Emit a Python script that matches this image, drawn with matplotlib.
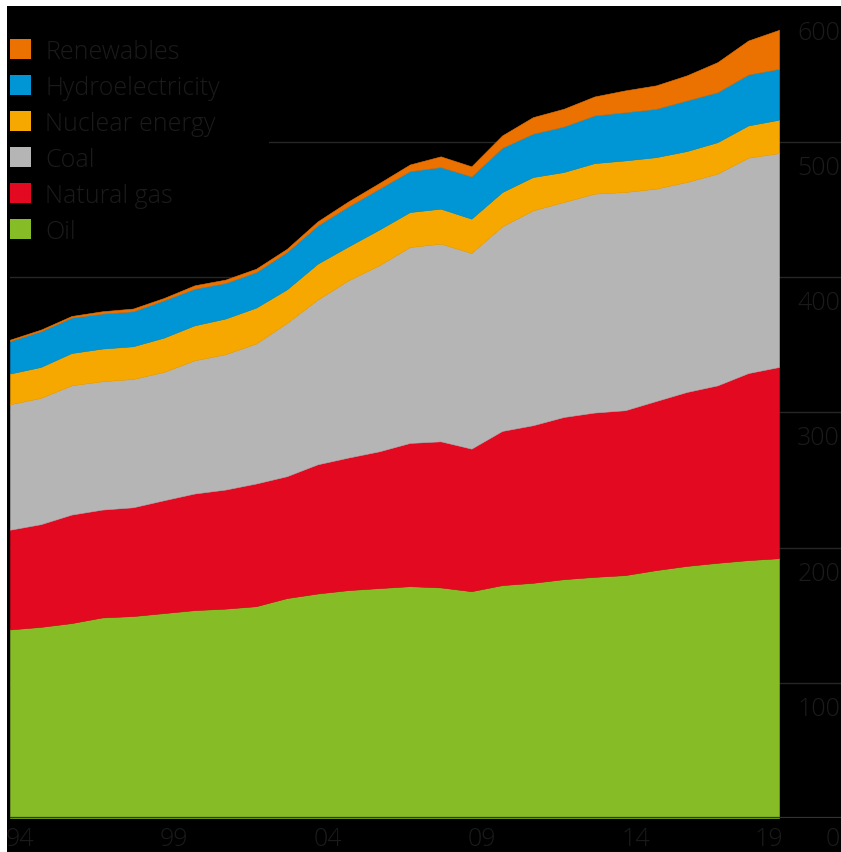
import matplotlib
matplotlib.use("Agg")
import matplotlib.pyplot as plt
from matplotlib.patches import Rectangle
import numpy as np

# Primary energy consumption by fuel, 1994-2019
years = list(range(1994, 2020))
oil = [139.5, 141.4, 144.2, 148.4, 149.4, 151.6, 153.8, 154.9, 156.7, 162.7,
       166.1, 168.6, 170.1, 171.5, 170.6, 167.8, 172.3, 174.0, 176.7, 178.4,
       179.7, 183.4, 186.5, 188.8, 190.8, 192.2]
natural_gas = [73.8, 76.0, 80.3, 79.8, 80.5, 83.5, 86.3, 88.1, 90.8, 90.2,
               95.6, 98.1, 101.2, 106.0, 108.1, 105.5, 114.1, 116.6, 120.0, 121.6,
               122.0, 125.1, 128.7, 131.3, 138.4, 141.5]
coal = [92.8, 93.4, 95.6, 94.9, 94.9, 94.9, 98.5, 100.1, 103.5, 113.3,
        121.8, 131.1, 137.6, 144.9, 146.2, 144.7, 151.3, 158.9, 159.0, 161.9,
        161.4, 157.1, 155.3, 156.6, 159.3, 158.2]
nuclear = [22.7, 22.9, 23.9, 24.2, 24.2, 25.4, 25.9, 26.4, 26.6, 24.9,
           26.6, 25.1, 26.4, 25.9, 25.9, 25.4, 25.4, 24.7, 22.2, 22.6,
           23.4, 23.3, 22.9, 23.3, 23.9, 24.7]
hydro = [24.1, 26.4, 26.2, 25.9, 25.9, 27.6, 27.1, 26.3, 26.3, 27.6,
         28.3, 29.6, 30.3, 30.3, 30.8, 31.3, 32.8, 32.1, 33.7, 35.3,
         35.7, 35.8, 37.5, 37.0, 37.7, 37.7]
renewables = [1.0, 1.2, 1.2, 1.7, 2.0, 1.7, 2.5, 2.5, 2.5, 2.4,
              3.0, 3.7, 4.1, 4.9, 7.9, 7.4, 9.1, 12.2, 13.1, 14.0,
              16.1, 17.3, 18.5, 22.2, 25.1, 28.8]

series_names = ["Oil", "Natural gas", "Coal", "Nuclear energy",
                "Hydroelectricity", "Renewables"]
series_colors = ["#86bc25", "#e30920", "#b6b5b6", "#f6a800", "#0096d6", "#eb7100"]

x_tick_years = [1994, 1999, 2004, 2009, 2014, 2019]
x_tick_labels = ["94", "99", "04", "09", "14", "19"]
y_ticks = [0, 100, 200, 300, 400, 500, 600]

W, H = 841, 852
TEXT = "#1b1b1b"
FONT = dict(family=["Open Sans", "DejaVu Sans"], fontweight="light", fontsize=18)

fig = plt.figure(figsize=(W / 100, H / 100), dpi=100, facecolor="white")

# black panel with a thin white margin on the top and left
fig.patches.append(Rectangle((7 / W, 0), 1, (H - 6) / H, transform=fig.transFigure,
                             facecolor="black", edgecolor="none", zorder=-10))

ax = fig.add_axes([10 / W, (H - 818) / H, (W - 10) / W, (818 - 7) / H])
ax.set_facecolor("none")
ax.set_xlim(1994, 1994 + (W - 10) / 30.76)
ax.set_ylim(0, 600)
ax.axis("off")

# gridlines behind the areas
for v in y_ticks[1:-1]:
    ax.axhline(v, color="#262626", lw=1.0, zorder=0)

stack = np.vstack([oil, natural_gas, coal, nuclear, hydro, renewables])
ax.stackplot(years, stack, colors=series_colors, zorder=1,
             edgecolor="face", linewidth=0.4)

ax.axhline(0, color="#333333", lw=1.6, zorder=3)

# y-axis labels on the right, set just below each gridline
for v in y_ticks:
    dy = -28 if v == 0 else -33
    ax.annotate(str(v), xy=(1994 + (840 - 10) / 30.76, v), xytext=(0, dy),
                textcoords="offset pixels", ha="right", va="baseline",
                color=TEXT, annotation_clip=False, **FONT)

# year labels under the baseline
for yr, lab in zip(x_tick_years, x_tick_labels):
    if lab == x_tick_labels[-1]:
        ax.annotate(lab, xy=(yr, 0), xytext=(4, -28), textcoords="offset pixels",
                    ha="right", va="baseline", color=TEXT, annotation_clip=False, **FONT)
    else:
        ax.annotate(lab, xy=(yr, 0), xytext=(-4, -28), textcoords="offset pixels",
                    ha="left", va="baseline", color=TEXT, annotation_clip=False, **FONT)

# legend block (black backing hides the gridline behind it)
fig.patches.append(Rectangle((7 / W, (H - 255) / H), (269 - 7) / W, (255 - 6) / H,
                             transform=fig.transFigure, facecolor="black",
                             edgecolor="none", zorder=5))
legend_order = list(range(len(series_names)))[::-1]
for row, idx in enumerate(legend_order):
    cy = 49 + 36 * row
    fig.patches.append(Rectangle((10 / W, (H - cy - 10) / H), 21 / W, 20 / H,
                                 transform=fig.transFigure,
                                 facecolor=series_colors[idx], edgecolor="none",
                                 zorder=6))
    fig.text(45 / W, (H - (cy + 10)) / H, series_names[idx], ha="left", va="baseline",
             color=TEXT, zorder=7, **FONT)

fig.savefig("out.png", dpi=100, facecolor="white")
